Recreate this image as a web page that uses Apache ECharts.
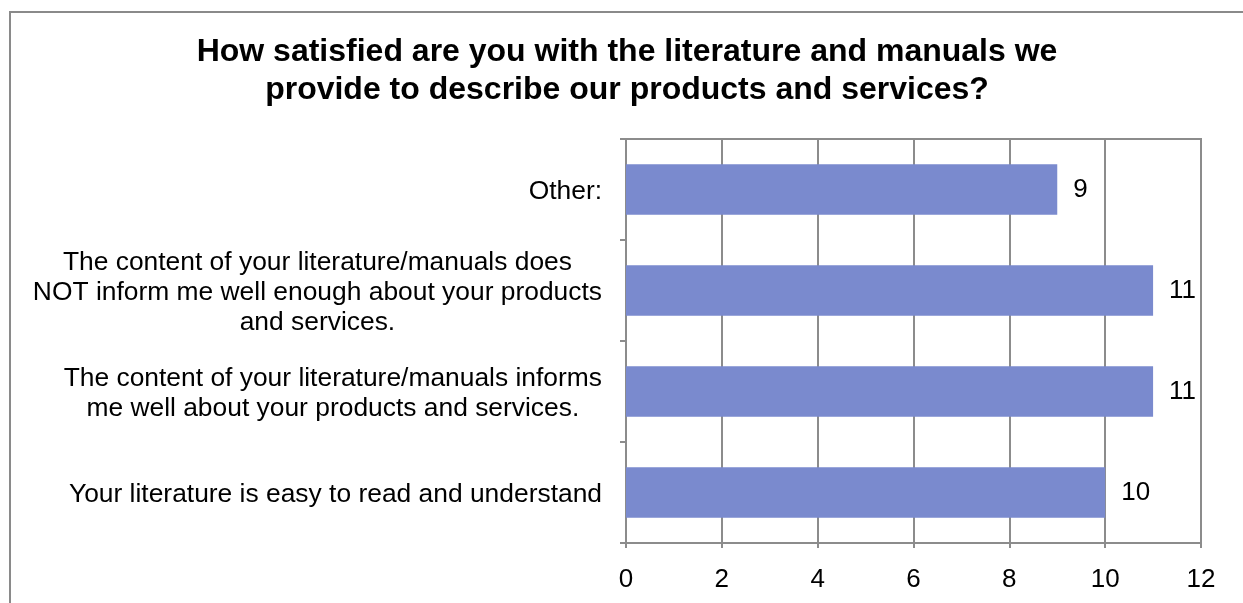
<!DOCTYPE html>
<html>
<head>
<meta charset="utf-8">
<style>
  html, body { margin: 0; padding: 0; background: #fff; }
  #chart { width: 1243px; height: 603px; }
</style>
<script src="https://cdn.jsdelivr.net/npm/echarts@6/dist/echarts.min.js"></script>
</head>
<body>
<div id="chart"></div>
<script>
const titleText = "How satisfied are you with the literature and manuals we\nprovide to describe our products and services?";
// categories listed top to bottom
const categories = [
  "Other:",
  "The content of your literature/manuals does\nNOT inform me well enough about your products\nand services.",
  "The content of your literature/manuals informs\nme well about your products and services.",
  "Your literature is easy to read and understand"
];
const values = [9, 11, 11, 10];
const axisMin = 0, axisMax = 12, axisStep = 2;

const FONT = "'Liberation Sans', Arial, Helvetica, sans-serif";
const GRID = '#8c8c8c';

const chart = echarts.init(document.getElementById('chart'), null, { renderer: 'canvas' });
chart.setOption({
  backgroundColor: '#ffffff',
  animation: false,
  graphic: [{
    type: 'rect',
    shape: { x: 10, y: 12, width: 1400, height: 800 },
    style: { fill: 'none', stroke: '#8a8a8a', lineWidth: 2 },
    silent: true, z: -1
  }],
  title: {
    text: titleText,
    left: 627,
    textAlign: 'center',
    top: 33,
    padding: 0,
    textStyle: {
      fontFamily: FONT, fontSize: 32, fontWeight: 'bold', color: '#000', lineHeight: 38
    }
  },
  grid: {
    left: 626, right: 42, top: 139, bottom: 60,
    show: true, borderColor: GRID, borderWidth: 2, backgroundColor: 'transparent'
  },
  xAxis: {
    type: 'value',
    min: axisMin, max: axisMax, interval: axisStep,
    axisLine: { show: true, lineStyle: { color: GRID, width: 2 } },
    axisTick: { show: true, length: 5, lineStyle: { color: GRID, width: 2 } },
    splitLine: { show: true, lineStyle: { color: GRID, width: 2 } },
    axisLabel: { fontFamily: FONT, fontSize: 26, color: '#000', margin: 24 }
  },
  yAxis: {
    type: 'category',
    inverse: true,
    data: categories,
    axisLine: { show: true, lineStyle: { color: GRID, width: 2 } },
    axisTick: { show: true, length: 6, lineStyle: { color: GRID, width: 2 } },
    splitLine: { show: false },
    axisLabel: {
      margin: 24,
      padding: [4, 0, 0, 0],
      fontFamily: FONT, fontSize: 26.4, color: '#000', lineHeight: 30,
      formatter: function (v) {
        return v.split('\n').map(function (l) { return '{c|' + l + '}'; }).join('\n');
      },
      rich: {
        c: { align: 'center', fontFamily: FONT, fontSize: 26.4, color: '#000', lineHeight: 30 }
      }
    }
  },
  series: [{
    type: 'bar',
    data: values,
    barCategoryGap: '50%',
    itemStyle: { color: '#7a8ace' },
    label: {
      show: true, position: 'right', distance: 16,
      fontFamily: FONT, fontSize: 26, color: '#000'
    }
  }]
});
</script>
</body>
</html>
